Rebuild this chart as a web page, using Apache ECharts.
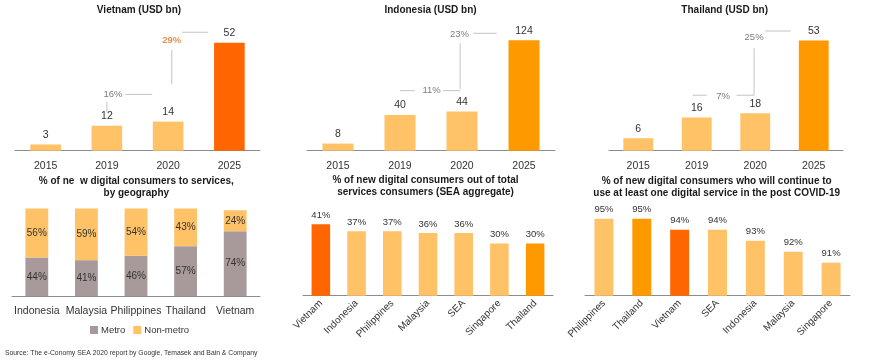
<!DOCTYPE html>
<html><head><meta charset="utf-8">
<script src="https://cdn.jsdelivr.net/npm/echarts@6/dist/echarts.min.js"></script>
<style>html,body{margin:0;padding:0;background:#fff}#c{width:870px;height:363px}</style>
</head><body><div id="c"></div>
<script>
// ---------- data ----------
const topYears = ['2015', '2019', '2020', '2025'];
const vietnamGmv = [3, 12, 14, 52];
const indonesiaGmv = [8, 40, 44, 124];
const thailandGmv = [6, 16, 18, 53];
const vietnamCagr = ['16%', '29%'];
const indonesiaCagr = ['11%', '23%'];
const thailandCagr = ['7%', '25%'];

const geoCountries = ['Indonesia', 'Malaysia', 'Philippines', 'Thailand', 'Vietnam'];
const metroShare = [44, 41, 46, 57, 74];
const nonMetroShare = [56, 59, 54, 43, 24];

const newShareCountries = ['Vietnam', 'Indonesia', 'Philippines', 'Malaysia', 'SEA', 'Singapore', 'Thailand'];
const newShare = [41, 37, 37, 36, 36, 30, 30];

const continueCountries = ['Philippines', 'Thailand', 'Vietnam', 'SEA', 'Indonesia', 'Malaysia', 'Singapore'];
const continueShare = [95, 95, 94, 94, 93, 92, 91];

// ---------- styles ----------
const FONT = "'Liberation Sans', Arial, sans-serif";
const LIGHT = '#FFC266';
const RED = '#FF6600';
const AMBER = '#FF9900';
const GREY_LINE = '#C4C4C4';
const AXIS = '#8C8C8C';
const TXT = '#333333';
const highlight = { Vietnam: RED, Thailand: AMBER };

const grids = [
  { left: 15, top: 26, width: 245, height: 124.7 },
  { left: 307, top: 26, width: 248, height: 124.7 },
  { left: 609, top: 26, width: 234, height: 124.7 },
  { left: 12, top: 208.5, width: 248, height: 87.5 },
  { left: 303, top: 208.7, width: 250, height: 87 },
  { left: 585, top: 207.7, width: 265, height: 88 }
];

function catAxis(gi, data, rotate) {
  return {
    type: 'category', gridIndex: gi, data: data,
    axisLine: { onZero: false, lineStyle: { color: AXIS, width: 1 } },
    axisTick: { show: false },
    axisLabel: rotate ? { rotate: 45, margin: 6, fontSize: 10, color: TXT, interval: 0 }
                      : { margin: 9.5, fontSize: 10.5, color: TXT, interval: 0 }
  };
}
function hiddenValueX(gi) {
  return { type: 'value', gridIndex: gi, min: -0.5, max: 3.5, show: false };
}
function yAx(gi, min, max) {
  return { type: 'value', gridIndex: gi, min: min, max: max, show: false, splitLine: { show: false } };
}

const xAxes = [
  catAxis(0, topYears), hiddenValueX(0),
  catAxis(1, topYears), hiddenValueX(1),
  catAxis(2, topYears), hiddenValueX(2),
  catAxis(3, geoCountries),
  catAxis(4, newShareCountries, true),
  catAxis(5, continueCountries, true)
];
const yAxes = [yAx(0, 0, 60), yAx(1, 0, 140), yAx(2, 0, 60), yAx(3, 0, 100), yAx(4, 0, 50), yAx(5, 88, 96)];

function topBars(name, xi, yi, values, lastColor, width) {
  return {
    type: 'bar', name: name, xAxisIndex: xi, yAxisIndex: yi, barWidth: width,
    data: values.map((v, i) => ({ value: v, itemStyle: { color: i === values.length - 1 ? lastColor : LIGHT } })),
    label: { show: true, position: 'top', distance: 4, fontSize: 10.5, color: TXT },
    animation: false, z: 2
  };
}
function lines(xi, yi, paths) {
  return paths.map(p => ({
    type: 'line', xAxisIndex: xi, yAxisIndex: yi, data: p, symbol: 'none', silent: true,
    lineStyle: { color: GREY_LINE, width: 1 }, animation: false, z: 1
  }));
}
function cagrText(xi, yi, points, styles) {
  return {
    type: 'scatter', xAxisIndex: xi, yAxisIndex: yi, symbolSize: 1, silent: true,
    itemStyle: { color: 'rgba(0,0,0,0)' }, animation: false,
    data: points.map((p, i) => ({
      value: [p[0], p[1]], name: p[2],
      label: Object.assign({ show: true, position: 'inside', formatter: '{b}', fontSize: 9.5, color: '#595959' }, styles[i] || {})
    }))
  };
}

const series = [
  // Vietnam
  topBars('Vietnam GMV', 0, 0, vietnamGmv, RED, '50%'),
  ...lines(1, 0, [
    [[1.0, 18.5], [1.0, 23.5]],
    [[1.30, 27.1], [1.74, 27.1]],
    [[2.06, 32.1], [2.06, 48.5]],
    [[2.23, 57.0], [2.65, 57.0]]
  ]),
  cagrText(1, 0, [[1.10, 27.3, vietnamCagr[0]], [2.06, 53.3, vietnamCagr[1]]],
    [{}, { color: '#E8732A', fontWeight: 'bold' }]),
  // Indonesia
  topBars('Indonesia GMV', 2, 1, indonesiaGmv, AMBER, '50%'),
  ...lines(3, 1, [
    [[1.0, 67.4], [1.24, 67.4]],
    [[1.69, 67.4], [1.97, 67.4]],
    [[1.97, 69.3], [1.97, 120.6]],
    [[2.18, 131.8], [2.56, 131.8]]
  ]),
  cagrText(3, 1, [[1.51, 67.4, indonesiaCagr[0]], [1.96, 131, indonesiaCagr[1]]], []),
  // Thailand
  topBars('Thailand GMV', 4, 2, thailandGmv, AMBER, '51%'),
  ...lines(5, 2, [
    [[0.93, 26.7], [1.17, 26.7]],
    [[1.68, 26.7], [1.98, 26.7]],
    [[1.98, 26.7], [1.98, 49.3]],
    [[2.17, 57.6], [2.61, 57.6]]
  ]),
  cagrText(5, 2, [[1.45, 26.3, thailandCagr[0]], [1.98, 54.6, thailandCagr[1]]], []),
  // Metro / non-metro
  {
    type: 'bar', name: 'Metro', xAxisIndex: 6, yAxisIndex: 3, stack: 'geo', barWidth: '46%',
    data: metroShare, itemStyle: { color: '#A89A9A' },
    label: { show: true, position: 'inside', formatter: '{c}%', fontSize: 10, color: TXT },
    animation: false
  },
  {
    type: 'bar', name: 'Non-metro', xAxisIndex: 6, yAxisIndex: 3, stack: 'geo', barWidth: '46%',
    data: nonMetroShare, itemStyle: { color: LIGHT },
    label: { show: true, position: 'inside', formatter: '{c}%', fontSize: 10, color: TXT },
    animation: false
  },
  // New consumers share
  {
    type: 'bar', name: 'New share', xAxisIndex: 7, yAxisIndex: 4, barWidth: '52%',
    data: newShare.map((v, i) => ({ value: v, itemStyle: { color: highlight[newShareCountries[i]] || LIGHT } })),
    label: { show: true, position: 'top', distance: 4, formatter: '{c}%', fontSize: 9.5, color: TXT },
    animation: false
  },
  // Continue to use
  {
    type: 'bar', name: 'Continue', xAxisIndex: 8, yAxisIndex: 5, barWidth: '50%',
    data: continueShare.map((v, i) => ({ value: v, itemStyle: { color: highlight[continueCountries[i]] || LIGHT } })),
    label: { show: true, position: 'top', distance: 4, formatter: '{c}%', fontSize: 9.5, color: TXT },
    animation: false
  }
];

const tStyle = { fontSize: 10, fontWeight: 'bold', color: '#1a1a1a', lineHeight: 11.6, fontFamily: FONT };
const titles = [
  { text: 'Vietnam (USD bn)', left: 139, top: 4 },
  { text: 'Indonesia (USD bn)', left: 430.5, top: 4 },
  { text: 'Thailand (USD bn)', left: 724.7, top: 4 },
  { text: '% of ne  w digital consumers to services,\nby geography', left: 136.3, top: 175.9 },
  { text: '% of new digital consumers out of total\nservices consumers (SEA aggregate)', left: 425.5, top: 174.9 },
  { text: '% of new digital consumers who will continue to\nuse at least one digital service in the post COVID-19', left: 716.7, top: 175.9 }
].map(t => Object.assign({ textAlign: 'center', padding: 0, textStyle: tStyle }, t));
titles.push({
  text: 'Source: The e-Conomy SEA 2020 report by Google, Temasek and Bain & Company',
  left: 5, top: 349.5, padding: 0,
  textStyle: { fontSize: 6.8, fontWeight: 'normal', color: TXT, fontFamily: FONT }
});

const chart = echarts.init(document.getElementById('c'), null, { renderer: 'canvas' });
chart.setOption({
  backgroundColor: '#ffffff',
  animation: false,
  textStyle: { fontFamily: FONT },
  title: titles,
  grid: grids,
  xAxis: xAxes,
  yAxis: yAxes,
  legend: {
    data: ['Metro', 'Non-metro'], left: 90, top: 325, icon: 'rect',
    itemWidth: 8, itemHeight: 8, itemGap: 8, padding: 0,
    textStyle: { fontSize: 9.5, color: TXT, fontFamily: FONT, padding: [0, 0, 0, -2] }
  },
  series: series
});
</script>
</body></html>
